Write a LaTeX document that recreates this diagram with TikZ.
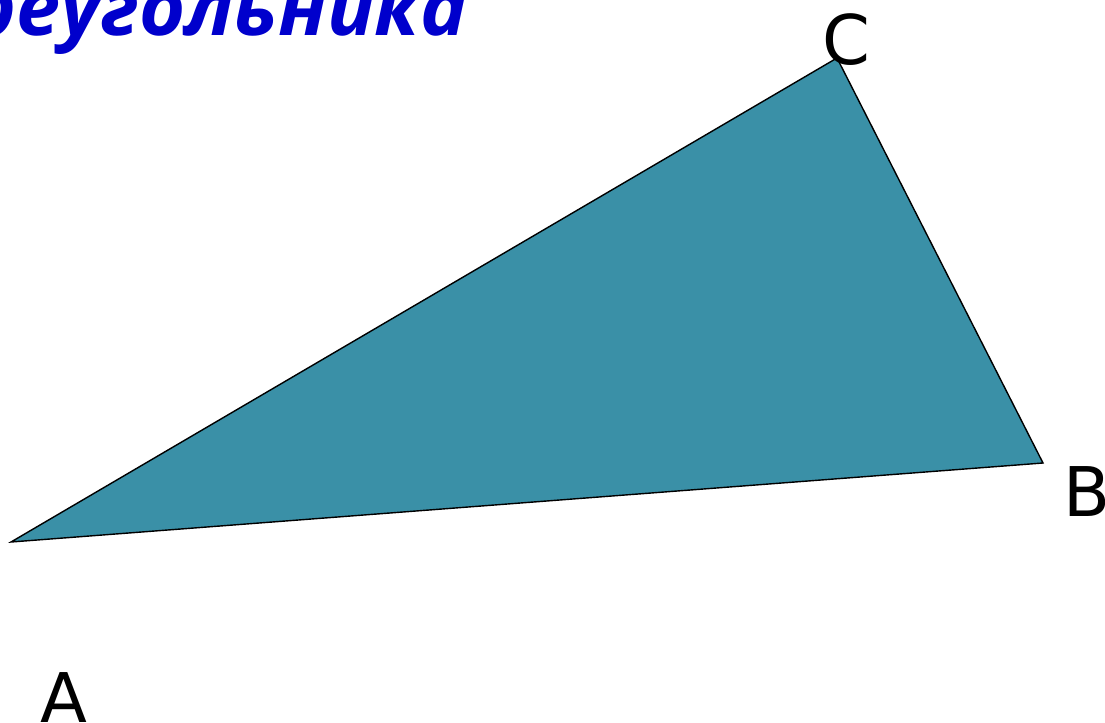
\documentclass[tikz,border=0pt]{standalone}
\usepackage{fontspec}
\setmainfont{DejaVu Sans}
\newfontfamily\titlefont{Open Sans}
\usepackage{tikz}
\definecolor{trifill}{RGB}{58,144,167}
\definecolor{titleblue}{RGB}{0,0,204}

\begin{document}
\begin{tikzpicture}[x=0.02cm,y=-0.02cm,
		vlabel/.style={font=\fontsize{39}{39}\selectfont,inner sep=0pt}]
			\clip (0,0) rectangle (1105,723);
			\useasboundingbox (0,0) rectangle (1105,723);
			% the heading, cut by the frame
			\node[anchor=base east,inner sep=0pt,text=titleblue,font=\titlefont\bfseries\itshape\fontsize{45}{45}\selectfont] (title) at (468,36) {реугольника};
			% the triangle
			\coordinate (A) at (11,542);
			\coordinate (B) at (1043,463);
			\coordinate (C) at (837,58);
			\filldraw[fill=trifill,draw=black,line width=0.8pt,line join=miter] (A) -- (B) -- (C) -- cycle;
			% vertex names
			\node[vlabel] (labC) at (846,40) {C};
			\node[vlabel] (labB) at (1087,492) {B};
			\node[vlabel] (labA) at (64,698) {A};
		\end{tikzpicture}
\end{document}
